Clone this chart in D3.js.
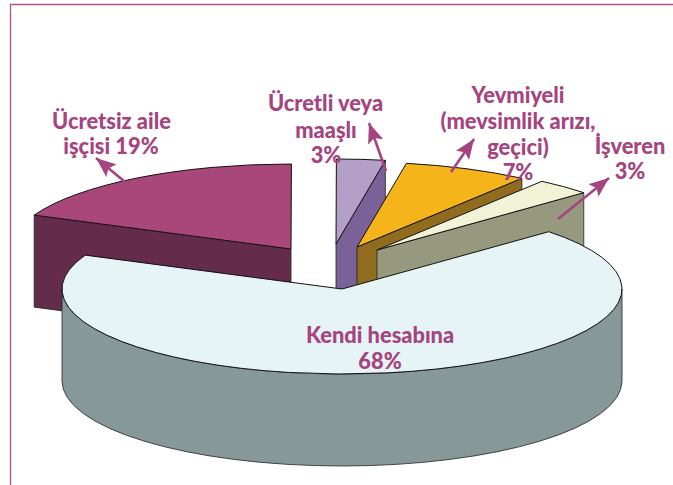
<!DOCTYPE html>
<html><head><meta charset="utf-8">
<script src="https://cdnjs.cloudflare.com/ajax/libs/d3/7.8.5/d3.min.js"></script>
<style>html,body{margin:0;padding:0;background:#fff}svg{display:block}</style>
</head><body><svg id="c" width="673" height="485"></svg>
<script>
// Data (shares, labels as printed)
const categories = ["Kendi hesabına","Ücretsiz aile işçisi","Ücretli veya maaşlı","Yevmiyeli (mevsimlik arızı, geçici)","İşveren"];
const shares = [68.3,18.5,2.8,7.2,3.2];
const printedPercent = [68,19,3,7,3];
// Layout
const topColors = ["#e6f4f5","#a9477a","#b39fc8","#f4b41a","#f2f3d6"];
const sideColors = ["#869998","#642b4b","#7a6198","#8f6c1e","#97997f"];
const centerX = [342,291,336,357,377];
const centerY = [289,249,244,247,250];
const rx = 280, ry = 85, depth = 92;
const accent = "#a5447f";
const labelLines = [
  [{t:"Kendi hesabına",x:380,y:343},{t:"68%",x:380,y:369}],
  [{t:"Ücretsiz aile",x:111.5,y:129},{t:"işçisi 19%",x:111,y:154}],
  [{t:"Ücretli veya",x:325.5,y:111},{t:"maaşlı",x:326,y:138},{t:"3%",x:326,y:163}],
  [{t:"Yevmiyeli",x:518,y:103},{t:"(mevsimlik arızı,",x:518,y:129},{t:"geçici)",x:518,y:155},{t:"7%",x:518,y:180}],
  [{t:"İşveren",x:630,y:154},{t:"3%",x:630,y:179}]
];
const arrows = [
  {x1:130,y1:186,x2:96,y2:158},
  {x1:386,y1:171,x2:369,y2:123},
  {x1:451,y1:172,x2:474,y2:139},
  {x1:558,y1:219,x2:609,y2:178}
];

const svg = d3.select("#c");
const rad = d => d*Math.PI/180;
const pie = d3.pie().sort(null).startAngle(rad(47.6)).endAngle(rad(47.6+360));
const arcs = pie(shares);
const arc = d3.arc().innerRadius(0).outerRadius(rx);
const yScale = ry/rx;
// d3 angle (0 at 12 o'clock, clockwise) -> screen point on the flattened ellipse
const pt = (i,a,dz=0)=>[centerX[i]+rx*Math.sin(a), centerY[i]-ry*Math.cos(a)+dz];

// Border
svg.append("path").attr("d","M673 4.5H10.5V485").attr("fill","none").attr("stroke","#b5508f").attr("stroke-width",1.3);

const order = [1,2,3,4,0];
order.forEach(i=>{
  const d = arcs[i], g = svg.append("g");
  const edge = {fill:sideColors[i],stroke:"#222",sw:0.8};
  // Radial cut faces, drawn when they face the viewer
  if(i!==0){
    const faceAngle = i===1 ? d.startAngle : d.endAngle;
    const p = pt(i,faceAngle), c=[centerX[i],centerY[i]];
    const path = d3.path();
    path.moveTo(c[0],c[1]); path.lineTo(p[0],p[1]); path.lineTo(p[0],p[1]+depth); path.lineTo(c[0],c[1]+depth); path.closePath();
    g.append("path").attr("d",path.toString()).attr("fill",edge.fill).attr("stroke",edge.stroke).attr("stroke-width",edge.sw).attr("stroke-linejoin","round");
  } else {
    // Outer wall: front half of the rim, from 3 o'clock to the slice's end
    const a0 = Math.PI/2, a1 = Math.min(d.endAngle, Math.PI*1.5);
    const p0 = pt(i,a0), p1 = pt(i,a1);
    const s = `M${p0[0]} ${p0[1]}A${rx} ${ry} 0 0 1 ${p1[0]} ${p1[1]}L${p1[0]} ${p1[1]+depth}A${rx} ${ry} 0 0 0 ${p0[0]} ${p0[1]+depth}Z`;
    g.append("path").attr("d",s).attr("fill",edge.fill).attr("stroke",edge.stroke).attr("stroke-width",edge.sw);
  }
  g.append("path").attr("d",arc(d))
    .attr("transform",`translate(${centerX[i]},${centerY[i]}) scale(1,${yScale})`)
    .attr("fill",topColors[i]).attr("stroke","#111").attr("stroke-width",1)
    .attr("vector-effect","non-scaling-stroke").attr("stroke-linejoin","round")
    .style("vector-effect","non-scaling-stroke");
});

// Arrows
const defs = svg.append("defs");
defs.append("marker").attr("id","head").attr("markerUnits","userSpaceOnUse").attr("viewBox","0 0 20 16")
  .attr("refX",20).attr("refY",8).attr("markerWidth",20).attr("markerHeight",16).attr("orient","auto")
  .append("path").attr("d","M0 0L20 8L0 16L4 8Z").attr("fill",accent);
svg.append("g").selectAll("line").data(arrows).join("line")
  .attr("x1",d=>d.x1).attr("y1",d=>d.y1).attr("x2",d=>d.x2).attr("y2",d=>d.y2)
  .attr("stroke",accent).attr("stroke-width",2.6).attr("marker-end","url(#head)");

// Labels
svg.append("g").attr("font-family","Lato, 'Noto Sans', sans-serif").attr("font-weight",900).attr("font-size",21.8).attr("fill",accent).attr("text-anchor","middle")
  .selectAll("text").data(labelLines.flat()).join("text")
  .attr("x",d=>d.x).attr("y",d=>d.y).text(d=>d.t);
</script></body></html>
